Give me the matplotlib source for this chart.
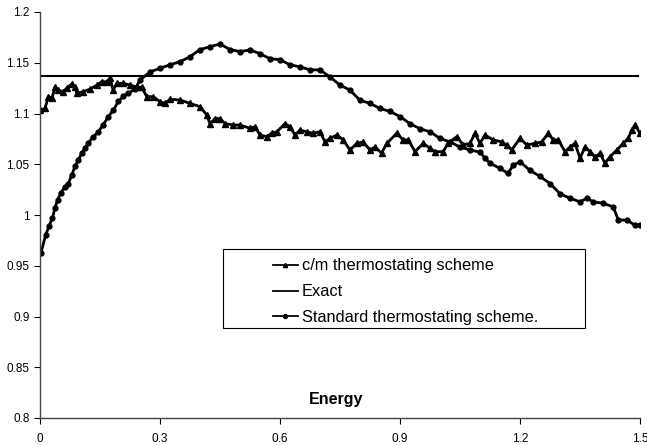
import matplotlib
matplotlib.use("Agg")
import matplotlib.pyplot as plt
import numpy as np
from matplotlib.ticker import FuncFormatter
from matplotlib.patches import Rectangle

plt.rcParams['font.family'] = ['Liberation Sans', 'DejaVu Sans']

# c/m thermostating scheme
cm_energy = [0.0, 0.0125, 0.021, 0.03, 0.0375, 0.046, 0.058, 0.067, 0.079, 0.0875,
             0.092, 0.108, 0.125, 0.142, 0.154, 0.167, 0.175, 0.183, 0.192, 0.208,
             0.225, 0.242, 0.254, 0.267, 0.283, 0.30, 0.3125, 0.325, 0.35, 0.375,
             0.40, 0.417, 0.425, 0.4375, 0.45, 0.4625, 0.483, 0.50, 0.525, 0.5375,
             0.55, 0.567, 0.579, 0.592, 0.6125, 0.625, 0.6375, 0.65, 0.667, 0.683,
             0.70, 0.7125, 0.725, 0.742, 0.758, 0.775, 0.792, 0.808, 0.825, 0.8375,
             0.854, 0.867, 0.892, 0.908, 0.921, 0.9375, 0.958, 0.975, 0.9875, 1.008,
             1.02, 1.042, 1.058, 1.075, 1.0875, 1.10, 1.1125, 1.133, 1.154, 1.167,
             1.179, 1.20, 1.217, 1.2375, 1.254, 1.271, 1.283, 1.296, 1.3125, 1.325,
             1.3375, 1.35, 1.3625, 1.375, 1.3875, 1.40, 1.4125, 1.425, 1.442, 1.458,
             1.471, 1.479, 1.4875, 1.50]
cm_value = [1.1035, 1.105, 1.1166, 1.115, 1.126, 1.123, 1.1215, 1.125, 1.129, 1.126,
            1.120, 1.1215, 1.124, 1.128, 1.1313, 1.1313, 1.1347, 1.123, 1.1297, 1.1297,
            1.128, 1.126, 1.1258, 1.1166, 1.1166, 1.1116, 1.110, 1.114, 1.1133, 1.110,
            1.1067, 1.0985, 1.090, 1.095, 1.095, 1.090, 1.0887, 1.0887, 1.0854, 1.087,
            1.0788, 1.0772, 1.0805, 1.082, 1.090, 1.087, 1.0788, 1.0837, 1.082, 1.0805,
            1.082, 1.072, 1.0755, 1.0788, 1.074, 1.064, 1.0706, 1.072, 1.064, 1.067,
            1.061, 1.0706, 1.0805, 1.074, 1.074, 1.0624, 1.0706, 1.0657, 1.0624, 1.0624,
            1.0706, 1.0772, 1.069, 1.0706, 1.0805, 1.0706, 1.0788, 1.074, 1.072, 1.069,
            1.064, 1.0755, 1.069, 1.0706, 1.072, 1.0805, 1.074, 1.074, 1.0624, 1.067,
            1.0706, 1.056, 1.067, 1.0624, 1.0574, 1.0607, 1.051, 1.0574, 1.064, 1.0706,
            1.0755, 1.0837, 1.0887, 1.0805]

# exact result
exact_energy = [0.0, 1.495]
exact_value = [1.1366, 1.1366]

# standard thermostating scheme
std_energy = [0.0025, 0.014, 0.0225, 0.031, 0.0375, 0.044, 0.0525, 0.0625, 0.071, 0.079,
              0.0875, 0.096, 0.104, 0.1125, 0.121, 0.133, 0.146, 0.158, 0.171, 0.183,
              0.196, 0.208, 0.221, 0.2375, 0.25, 0.275, 0.30, 0.325, 0.35, 0.375,
              0.40, 0.425, 0.45, 0.475, 0.50, 0.525, 0.55, 0.575, 0.60, 0.625,
              0.65, 0.675, 0.70, 0.725, 0.75, 0.775, 0.80, 0.825, 0.85, 0.875,
              0.90, 0.925, 0.95, 0.975, 1.00, 1.025, 1.05, 1.075, 1.10, 1.1125,
              1.125, 1.15, 1.17, 1.183, 1.20, 1.225, 1.25, 1.275, 1.30, 1.325,
              1.35, 1.367, 1.383, 1.408, 1.433, 1.446, 1.467, 1.4875, 1.50]
std_value = [0.9628, 0.980, 0.989, 0.997, 1.007, 1.015, 1.022, 1.028, 1.031, 1.039,
             1.048, 1.054, 1.061, 1.066, 1.071, 1.077, 1.082, 1.089, 1.097, 1.103,
             1.112, 1.117, 1.120, 1.124, 1.133, 1.141, 1.1445, 1.148, 1.151, 1.156,
             1.163, 1.1658, 1.1685, 1.163, 1.161, 1.1626, 1.159, 1.154, 1.153, 1.148,
             1.146, 1.143, 1.143, 1.136, 1.128, 1.123, 1.113, 1.110, 1.105, 1.102,
             1.097, 1.090, 1.085, 1.082, 1.0755, 1.072, 1.067, 1.064, 1.062, 1.056,
             1.051, 1.046, 1.041, 1.049, 1.0525, 1.044, 1.038, 1.031, 1.021, 1.0165,
             1.013, 1.0165, 1.013, 1.0115, 1.008, 0.995, 0.995, 0.990, 0.990]

fig = plt.figure(figsize=(6.47, 4.45), dpi=100)
ax = fig.add_axes([40 / 647, 27 / 445, 600 / 647, 406 / 445])

ax.plot(cm_energy, cm_value, color='black', lw=2.0, marker='^', ms=3.8,
        label='c/m thermostating scheme')
ax.plot(exact_energy, exact_value, color='black', lw=1.5, label='Exact')
ax.plot(std_energy, std_value, color='black', lw=2.0, marker='o', ms=3.5,
        label='Standard thermostating scheme.')

ax.set_xlim(0, 1.5)
ax.set_ylim(0.8, 1.2)
ax.set_xticks([0, 0.3, 0.6, 0.9, 1.2, 1.5])
ax.set_yticks(np.arange(0.8, 1.2001, 0.05))
ax.xaxis.set_major_formatter(FuncFormatter(lambda v, p: '%g' % round(v, 2)))
ax.yaxis.set_major_formatter(FuncFormatter(lambda v, p: '%g' % round(v, 2)))
ax.tick_params(labelsize=8.5, length=4, width=0.8, direction='out')
ax.tick_params(axis='x', pad=7)
for side in ['top', 'right']:
    ax.spines[side].set_visible(False)
for side in ['left', 'bottom']:
    ax.spines[side].set_color('#444444')
    ax.spines[side].set_linewidth(1.0)

ax.text(0.74, 0.818, 'Energy', ha='center', va='center', fontsize=11.5,
        fontweight='bold')

# legend box drawn separately so the entries sit with a wide left margin
ax.add_patch(Rectangle((0.305, 0.222), 0.603, 0.194, transform=ax.transAxes,
                       fill=False, edgecolor='black', lw=0.8, zorder=4))
leg = ax.legend(loc='upper left', bbox_to_anchor=(233 / 600, 0.393),
                fontsize=11.8, frameon=False, handlelength=1.5,
                handletextpad=0.25, labelspacing=0.66, borderpad=0.0,
                borderaxespad=0.0, markerscale=0.8)
for line in leg.get_lines():
    line.set_linewidth(1.3)

fig.savefig('out.png', dpi=100)
